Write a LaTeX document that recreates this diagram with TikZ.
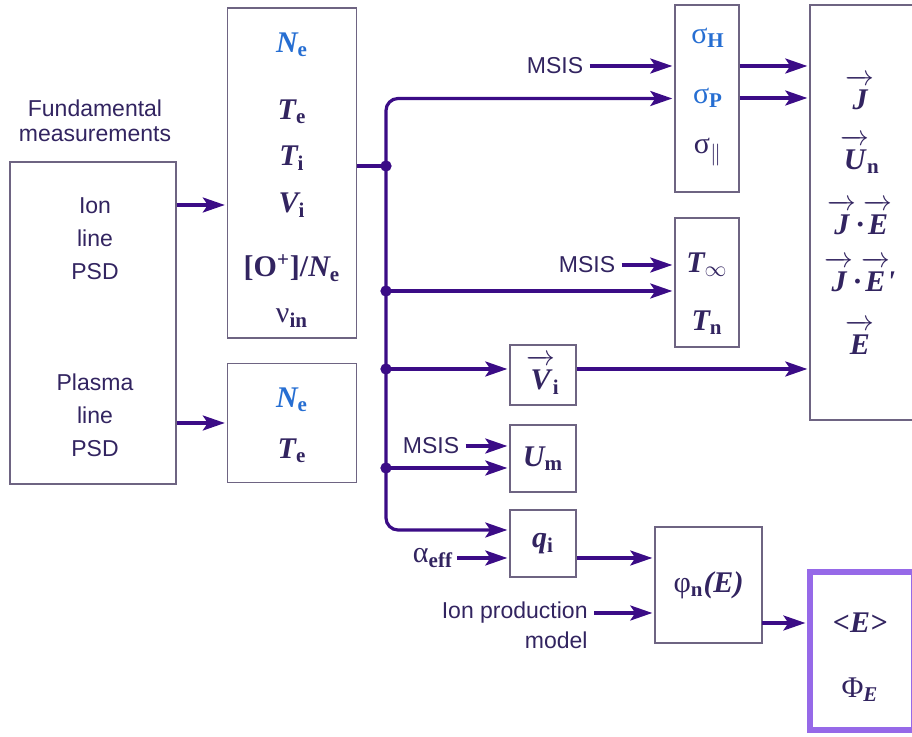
\documentclass[tikz,border=0pt]{standalone}
\usepackage{amsmath}
\usepackage[no-math]{fontspec}
\setmainfont{Liberation Sans}
\newfontfamily\serifval{Liberation Serif}
\usetikzlibrary{arrows.meta}

\definecolor{arrowpurple}{RGB}{59,12,134}
\definecolor{boxgray}{RGB}{110,100,130}
\definecolor{textpurple}{RGB}{50,36,96}
\definecolor{valblue}{RGB}{38,110,210}
\definecolor{lightpurple}{RGB}{150,105,232}

\newcommand{\bvar}[1]{{\bfseries\itshape #1}}
\newcommand{\bsub}[1]{\textsubscript{\bfseries\upshape #1}}
\newcommand{\vecvar}[1]{$\overrightarrow{\hbox{\rule{0pt}{12pt}\bvar{#1}}}$}

\begin{document}
\begin{tikzpicture}[x=0.5pt, y=-0.5pt,
    box/.style={draw=boxgray, line width=0.7pt, inner sep=0pt},
    lbl/.style={text=textpurple, font=\fontsize{11.5}{12.5}\selectfont, inner sep=3pt},
    val/.style={text=textpurple, font=\fontsize{15}{17}\serifval, inner sep=0pt},
    blueval/.style={val, text=valblue},
    arr/.style={draw=arrowpurple, line width=1.6pt, shorten >=1pt,
        -{Stealth[length=11pt, width=7.5pt, inset=2.5pt]}},
    wire/.style={draw=arrowpurple, line width=1.6pt}]

    \useasboundingbox (0,0) rectangle (912,737);
    \clip (0,0) rectangle (912,737);

    % sources
    \node[box, minimum width=83pt, minimum height=161pt] (psd) at (93,323) {};
    \node[lbl, align=center] (fund) at (95,121) {Fundamental\\measurements};
    \node[lbl, align=center, font=\fontsize{11.5}{16.5}\selectfont] (ion) at (95,239) {Ion\\line\\PSD};
    \node[lbl, align=center, font=\fontsize{11.5}{16.5}\selectfont] (plasma) at (95,415) {Plasma\\line\\PSD};

    % measured parameters
    \node[box, minimum width=64.5pt, minimum height=165pt] (meas) at (292,173) {};
    \node[blueval] (mNe) at (292,45) {\bvar{N}\bsub{e}};
    \node[val] (mTe) at (292,112) {\bvar{T}\bsub{e}};
    \node[val] (mTi) at (292,158) {\bvar{T}\bsub{i}};
    \node[val] (mVi) at (292,205) {\bvar{V}\bsub{i}};
    \node[val] (mO) at (292,268) {{\bfseries [O\textsuperscript{+}]/}\bvar{N}\bsub{e}};
    \node[val] (mnu) at (292,318) {ν\bsub{in}};

    \node[box, minimum width=64.5pt, minimum height=59.5pt] (plas) at (292,423) {};
    \node[blueval] (pNe) at (292,400) {\bvar{N}\bsub{e}};
    \node[val] (pTe) at (292,451) {\bvar{T}\bsub{e}};

    % derived parameters
    \node[box, minimum width=32pt, minimum height=93.5pt] (sig) at (707,98.5) {};
    \node[blueval] (sH) at (708,38) {σ\bsub{H}};
    \node[blueval] (sP) at (708,98) {σ\bsub{P}};
    \node[val] (sPar) at (708,152) {σ\textsubscript{$\|$}};

    \node[box, minimum width=32pt, minimum height=64.5pt] (tn) at (707,282.5) {};
    \node[val] (tInf) at (707,265) {\bvar{T}\textsubscript{$\infty$}};
    \node[val] (tN) at (707,323) {\bvar{T}\bsub{n}};

    \node[box, val, minimum width=33pt, minimum height=30pt] (vi) at (543,375) {\vecvar{V}\kern-1pt\bsub{i}};
    \node[box, val, minimum width=33pt, minimum height=33.5pt] (um) at (543,458.5) {\bvar{U}\bsub{m}};
    \node[box, val, minimum width=33pt, minimum height=33.5pt] (qi) at (543,543.5) {\bvar{q}\bsub{i}};
    \node[box, val, minimum width=53.5pt, minimum height=58pt] (phi) at (708.5,585) {φ\bsub{n}\bvar{(E)}\\[18pt]};

    % outputs
    \node[box, minimum width=52pt, minimum height=207.5pt] (out) at (862,212.5) {};
    \node[val] (oJ) at (860,92) {\vecvar{J}};
    \node[val] (oU) at (860,154) {\vecvar{U}\kern-1pt\bsub{n}};
    \node[val] (oJE) at (860,217) {\vecvar{J}\bvar{·}\vecvar{E}};
    \node[val] (oJEp) at (860,274) {\vecvar{J}\bvar{·}\vecvar{E}\kern-1.5pt\bvar{'}};
    \node[val] (oE) at (860,337) {\vecvar{E}};

    \node[draw=lightpurple, line width=2.6pt, minimum width=52pt, minimum height=79pt] (res) at (862,651) {};
    \node[val] (rE) at (860,623) {\bvar{<E>}};
    \node[val] (rPhi) at (860,690) {Φ\textsubscript{\bvar{E}}};

    % model inputs
    \node[lbl] (msis1) at (555,66) {MSIS};
    \node[lbl] (msis2) at (587,265) {MSIS};
    \node[lbl] (msis3) at (431,446) {MSIS};
    \node[val, inner sep=2pt] (aeff) at (433,558) {α\bsub{eff}};
    \node[lbl, anchor=east] (ipm1) at (594,613) {Ion production};
    \node[lbl, anchor=east] (ipm2) at (594,640) {model};

    % bus
    \coordinate (b1) at (386,166);
    \coordinate (b2) at (386,291);
    \coordinate (b3) at (386,369);
    \coordinate (b4) at (386,468);
    \coordinate (b5) at (386,530);
    \coordinate (b6) at (762,623);

    \draw[arr] (psd.east |- mVi) -- (meas.west |- mVi);
    \draw[arr] (psd.east |- plas) -- (plas.west);
    \draw[wire] (meas.east |- b1) -- (b1);
    \draw[arr, rounded corners=6pt] (b1) |- (sig.west);
    \draw[arr, rounded corners=6pt] (b1) -- (b5) -- (qi.west |- b5);
    \draw[arr] (b2) -- (tn.west |- b2);
    \draw[arr] (b3) -- (vi.west |- b3);
    \draw[arr] (b4) -- (um.west |- b4);
    \foreach \b in {b1,b2,b3,b4}
        \filldraw[arrowpurple] (\b) circle (2.6pt);

    \draw[arr] (msis1) -- (sig.west |- msis1);
    \draw[arr] (msis2) -- (tn.west |- msis2);
    \draw[arr] (msis3) -- (um.west |- msis3);
    \draw[arr] (aeff) -- (qi.west |- aeff);
    \draw[arr] (ipm1) -- (phi.west |- ipm1);

    \draw[arr] (sig.east |- msis1) -- (out.west |- msis1);
    \draw[arr] (sig.east |- sP) -- (out.west |- sP);
    \draw[arr] (vi.east |- b3) -- (out.west |- b3);
    \draw[arr] (qi.east |- aeff) -- (phi.west |- aeff);
    \draw[arr] (b6) -- (res.west |- b6);

\end{tikzpicture}
\end{document}
